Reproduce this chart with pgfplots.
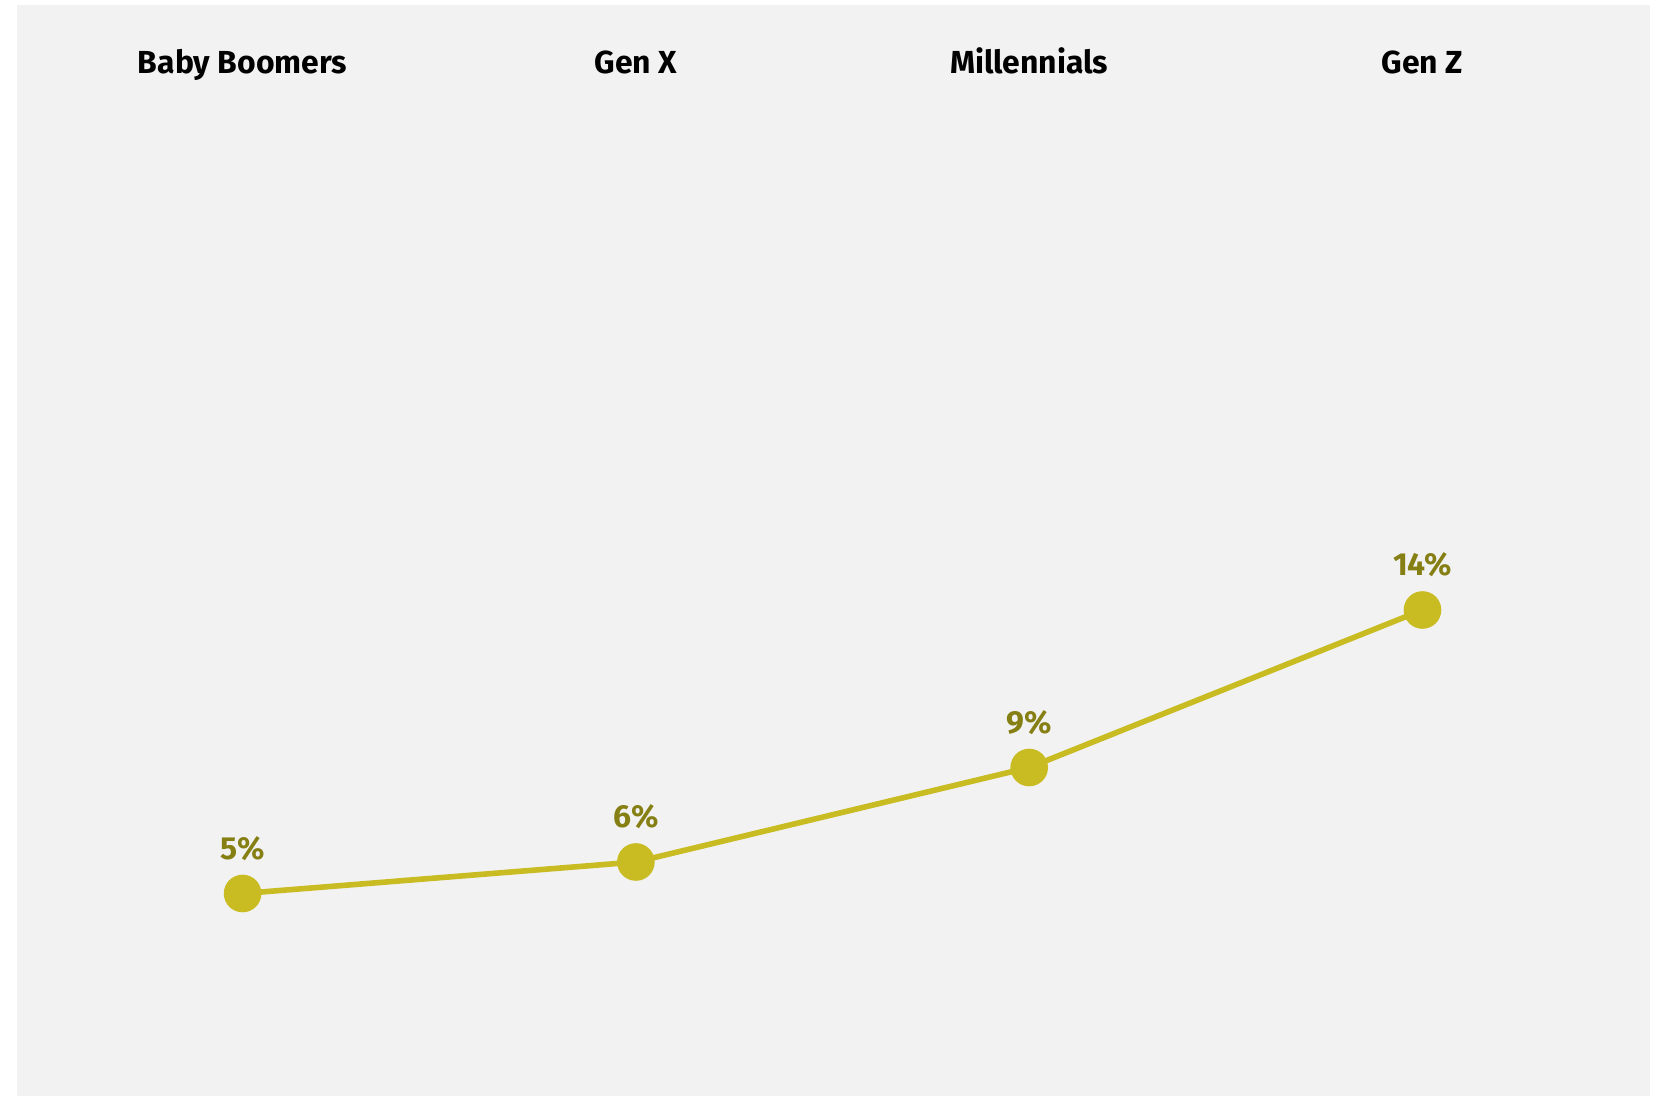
\documentclass[border=0pt]{standalone}
\usepackage{pgfplots}
\pgfplotsset{compat=1.18}
\usepackage{fontspec}
\setmainfont{Fira Sans}
\definecolor{bg}{HTML}{F2F2F2}
\definecolor{lineC}{HTML}{C8BC22}
\definecolor{lab}{HTML}{857F14}
\begin{document}
\begin{tikzpicture}
\fill[white] (0,0) rectangle (830.5bp,548bp);
\fill[bg] (8.5bp,0) rectangle (825bp,545.5bp);
\begin{axis}[
  at={(22.97bp,22.5bp)}, anchor=south west,
  scale only axis, width=786.6bp, height=472.5bp,
  xmin=-0.5, xmax=3.5, ymin=0, ymax=30,
  hide axis, clip=false,
  nodes near coords, point meta=explicit symbolic,
  nodes near coords style={anchor=base, yshift=17bp, inner sep=0pt,
    text=lab, font=\bfseries\fontsize{16}{16}\selectfont},
]
\addplot[color=lineC, line width=2.8bp, mark=*, mark size=8bp,
  mark options={fill=lineC, draw=none}]
  table[meta=lab] {
x y lab
0 5 5\%
1 6 6\%
2 9 9\%
3 14 14\%
};
\node[anchor=base, font=\bfseries\fontsize{16}{16}\selectfont] at (axis cs:0,31.04) {Baby Boomers};
\node[anchor=base, font=\bfseries\fontsize{16}{16}\selectfont] at (axis cs:1,31.04) {Gen X};
\node[anchor=base, font=\bfseries\fontsize{16}{16}\selectfont] at (axis cs:2,31.04) {Millennials};
\node[anchor=base, font=\bfseries\fontsize{16}{16}\selectfont] at (axis cs:3,31.04) {Gen Z};
\end{axis}
\end{tikzpicture}
\end{document}
